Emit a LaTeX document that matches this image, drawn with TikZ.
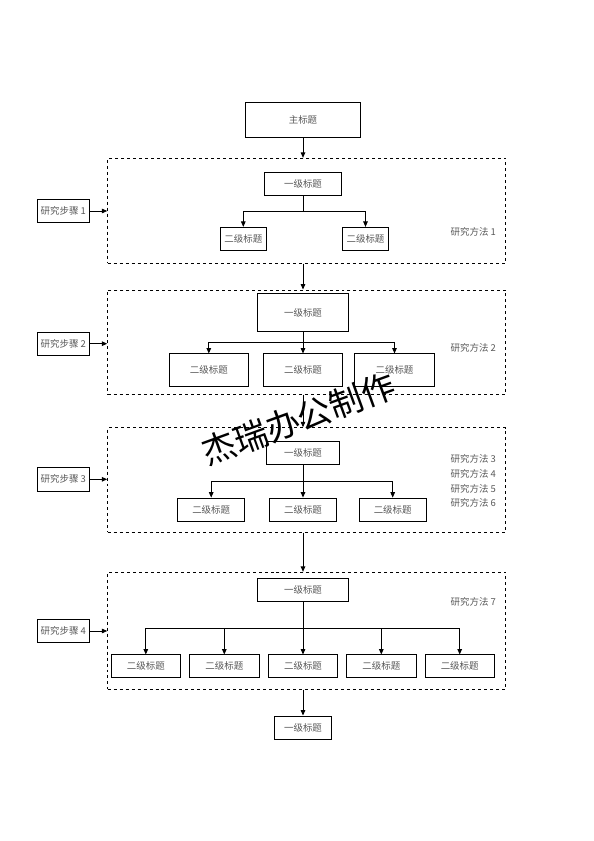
\documentclass[tikz,border=0pt]{standalone}
\usepackage{fontspec}
\newfontfamily\cjk{Noto Sans CJK SC}
\usetikzlibrary{arrows.meta}

\begin{document}
\begin{tikzpicture}[x=1in,y=1in,
  box/.style={draw, line width=0.9pt, fill=white, text=black!65, inner sep=0pt,
    font=\cjk\fontsize{9.5}{11}\selectfont},
  frame/.style={draw, dashed, line width=0.9pt, inner sep=0pt},
  link/.style={line width=0.9pt, -{Triangle[length=5.5pt,width=4.6pt]}},
  note/.style={text=black!65, align=left, inner sep=0pt,
    font=\cjk\fontsize{9.5}{14.7}\selectfont}]
\useasboundingbox (0,0) rectangle (8.2500,11.6806);
\node[box, minimum width=1.6069in, minimum height=0.4861in] (main) at (4.2083,10.0167) {主标题};
% stage 1
\node[frame, minimum width=5.5278in, minimum height=1.4583in] (frame1) at (4.2597,8.7528) {};
\node[box, minimum width=1.0694in, minimum height=0.3194in] (t1) at (4.2083,9.1278) {一级标题};
\coordinate (j1) at (4.2083,8.7500);
\node[box, minimum width=0.6319in, minimum height=0.3153in] (u11) at (3.3792,8.3653) {二级标题};
\node[box, minimum width=0.6319in, minimum height=0.3153in] (u12) at (5.0764,8.3653) {二级标题};
\node[note] (m1) at (6.5736,8.4625) {研究方法 1};
\node[box, minimum width=0.7222in, minimum height=0.3250in] (s1) at (0.8792,8.7500) {研究步骤 1};
% stage 2
\node[frame, minimum width=5.5278in, minimum height=1.4486in] (frame2) at (4.2597,6.9285) {};
\node[box, minimum width=1.2736in, minimum height=0.5236in] (t2) at (4.2083,7.3361) {一级标题};
\coordinate (j2) at (4.2083,6.9208);
\node[box, minimum width=1.1014in, minimum height=0.4542in] (u21) at (2.9000,6.5375) {二级标题};
\node[box, minimum width=1.1014in, minimum height=0.4542in] (u22) at (4.2083,6.5375) {二级标题};
\node[box, minimum width=1.1014in, minimum height=0.4542in] (u23) at (5.4792,6.5375) {二级标题};
\node[note] (m2) at (6.5736,6.8431) {研究方法 2};
\node[box, minimum width=0.7222in, minimum height=0.3250in] (s2) at (0.8792,6.9069) {研究步骤 2};
% stage 3
\node[frame, minimum width=5.5278in, minimum height=1.4528in] (frame3) at (4.2597,5.0139) {};
\node[box, minimum width=1.0181in, minimum height=0.3153in] (t3) at (4.2083,5.3889) {一级标题};
\coordinate (j3) at (4.2083,4.9958);
\node[box, minimum width=0.9264in, minimum height=0.3236in] (u31) at (2.9333,4.6014) {二级标题};
\node[box, minimum width=0.9264in, minimum height=0.3236in] (u32) at (4.2083,4.6014) {二级标题};
\node[box, minimum width=0.9264in, minimum height=0.3236in] (u33) at (5.4542,4.6014) {二级标题};
\node[note] (m3) at (6.5736,4.9972) {研究方法 3\\研究方法 4\\研究方法 5\\研究方法 6};
\node[box, minimum width=0.7222in, minimum height=0.3250in] (s3) at (0.8792,5.0236) {研究步骤 3};
% stage 4
\node[frame, minimum width=5.5278in, minimum height=1.6250in] (frame4) at (4.2597,2.9194) {};
\node[box, minimum width=1.2736in, minimum height=0.3194in] (t4) at (4.2083,3.4889) {一级标题};
\coordinate (j4) at (4.2083,2.9583);
\node[box, minimum width=0.9653in, minimum height=0.3153in] (u41) at (2.0250,2.4264) {二级标题};
\node[box, minimum width=0.9653in, minimum height=0.3153in] (u42) at (3.1153,2.4264) {二级标题};
\node[box, minimum width=0.9653in, minimum height=0.3153in] (u43) at (4.2083,2.4264) {二级标题};
\node[box, minimum width=0.9653in, minimum height=0.3153in] (u44) at (5.2958,2.4264) {二级标题};
\node[box, minimum width=0.9653in, minimum height=0.3153in] (u45) at (6.3847,2.4264) {二级标题};
\node[note] (m7) at (6.5736,3.3236) {研究方法 7};
\node[box, minimum width=0.7222in, minimum height=0.3250in] (s4) at (0.8792,2.9167) {研究步骤 4};
\node[box, minimum width=0.7917in, minimum height=0.3194in] (last) at (4.2083,1.5764) {一级标题};
% links
\draw[link] (main) -- (main |- frame1.north);
\draw[line width=0.9pt] (t1) -- (j1);
\draw[link] (j1) -| (u11);
\draw[link] (j1) -| (u12);
\draw[link] (frame1.south -| t1) -- (frame2.north -| t1);
\draw[line width=0.9pt] (t2) -- (j2);
\draw[link] (j2) -| (u21);
\draw[link] (j2) -- (u22);
\draw[link] (j2) -| (u23);
\draw[link] (frame2.south -| t2) -- (frame3.north -| t2);
\draw[line width=0.9pt] (t3) -- (j3);
\draw[link] (j3) -| (u31);
\draw[link] (j3) -- (u32);
\draw[link] (j3) -| (u33);
\draw[link] (frame3.south -| t3) -- (frame4.north -| t3);
\draw[line width=0.9pt] (t4) -- (j4);
\draw[link] (j4) -| (u41);
\draw[link] (j4) -| (u42);
\draw[link] (j4) -- (u43);
\draw[link] (j4) -| (u44);
\draw[link] (j4) -| (u45);
\draw[link] (frame4.south -| t4) -- (last);
\draw[link] (s1) -- (s1 -| frame1.west);
\draw[link] (s2) -- (s2 -| frame2.west);
\draw[link] (s3) -- (s3 -| frame3.west);
\draw[link] (s4) -- (s4 -| frame4.west);
% watermark
\node[rotate=20, font=\cjk\fontsize{34}{34}\selectfont] (mark) at (4.1458,5.8611) {杰瑞办公制作};
\end{tikzpicture}
\end{document}
